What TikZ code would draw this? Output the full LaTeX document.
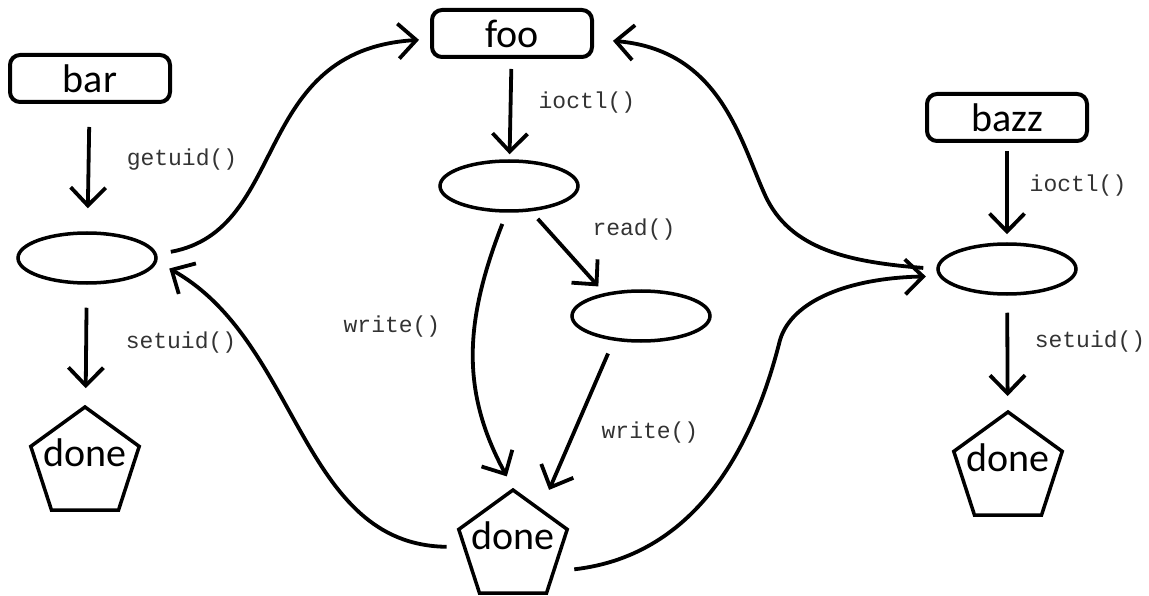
\documentclass[tikz,border=0pt]{standalone}
\usepackage{fontspec}
\setmainfont{Carlito}
\newfontfamily\codefont{Liberation Mono}
\usetikzlibrary{shapes.geometric}
\usetikzlibrary{arrows,arrows.meta}

\tikzset{
  proc/.style={draw, line width=4pt, rounded corners=10pt, minimum width=160pt, minimum height=47pt, inner sep=0pt, font=\fontsize{40}{48}\selectfont},
  stat/.style={draw, ellipse, line width=3.5pt, minimum width=138pt, minimum height=50pt, inner sep=0pt},
  endbox/.style={draw, regular polygon, regular polygon sides=5, line width=3.5pt, minimum size=114pt, inner sep=0pt, text height=4pt, text depth=0pt, font=\fontsize{40}{48}\selectfont},
  callname/.style={font=\codefont\fontsize{23}{26}\selectfont, text=black!80},
  flow/.style={line width=3.8pt, -{Straight Barb[length=18pt,width=35pt]}}
}

\begin{document}
\begin{tikzpicture}[x=1pt, y=-1pt]

    \useasboundingbox (0,0) rectangle (1149,596);

    % left column
    \node[proc] (bar) at (90,78.5) {bar};
    \node[stat] (sbar) at (87,258) {};
    \node[endbox] (dbar) at (85,464) {\makebox[0pt]{done}};

    % middle column
    \node[proc] (foo) at (512,33.5) {foo};
    \node[stat] (sfoo) at (509,186) {};
    \node[stat] (sread) at (641,316) {};
    \node[endbox] (dfoo) at (513,547) {\makebox[0pt]{done}};

    % right column
    \node[proc] (bazz) at (1007,117.5) {bazz};
    \node[stat] (sbazz) at (1007,269) {};
    \node[endbox] (dbazz) at (1008,469) {\makebox[0pt]{done}};

    % syscalls
    \node[callname] (getuid) at (182,160) {getuid()};
    \node[callname] (setuidl) at (181,343) {setuid()};
    \node[callname] (ioctlm) at (587,103) {ioctl()};
    \node[callname] (readm) at (634,230) {read()};
    \node[callname] (writel) at (392,327) {write()};
    \node[callname] (writer) at (650,433) {write()};
    \node[callname] (ioctlr) at (1078,186) {ioctl()};
    \node[callname] (setuidr) at (1090,342) {setuid()};

    \draw[flow, shorten <=23pt, shorten >=23pt] (bar) -- (sbar);
    \draw[flow, shorten <=23pt, shorten >=17pt] (sbar) -- (dbar);
    \draw[flow, shorten <=10pt, shorten >=5pt] (foo) -- (sfoo);
    \draw[flow, shorten <=10pt, shorten >=9pt] (sfoo.311) -- (sread.148);
    \draw[flow, shorten <=12pt, shorten >=13pt] (sfoo.265) .. controls (465,320) and (460,390) .. (dfoo.corner 1);
    \draw[flow, shorten <=14pt, shorten >=20pt] (sread.222) -- (dfoo.54);
    \draw[flow, shorten <=8pt, shorten >=8pt] (bazz) -- (sbazz);
    \draw[flow, shorten <=17pt, shorten >=14pt] (sbazz) -- (dbazz);

    \draw[flow, shorten <=14pt, shorten >=11pt] (sbar.3) .. controls (290,230) and (250,50) .. (foo.184);
    \draw[flow, shorten <=16pt, shorten >=14pt] (dfoo.west) .. controls (300,545) and (300,342) .. (sbar.-3);
    \draw[flow, shorten <=13pt, shorten >=19pt] (sbazz.180) .. controls (850,262) and (790,250) .. (765,195)
        .. controls (740,140) and (720,50) .. (foo.-4);
    \draw[flow, shorten <=19pt, shorten >=13pt] (dfoo.-30) .. controls (700,555) and (755,440) .. (780,340)
        .. controls (792,300) and (850,278) .. (sbazz.186);

\end{tikzpicture}
\end{document}
